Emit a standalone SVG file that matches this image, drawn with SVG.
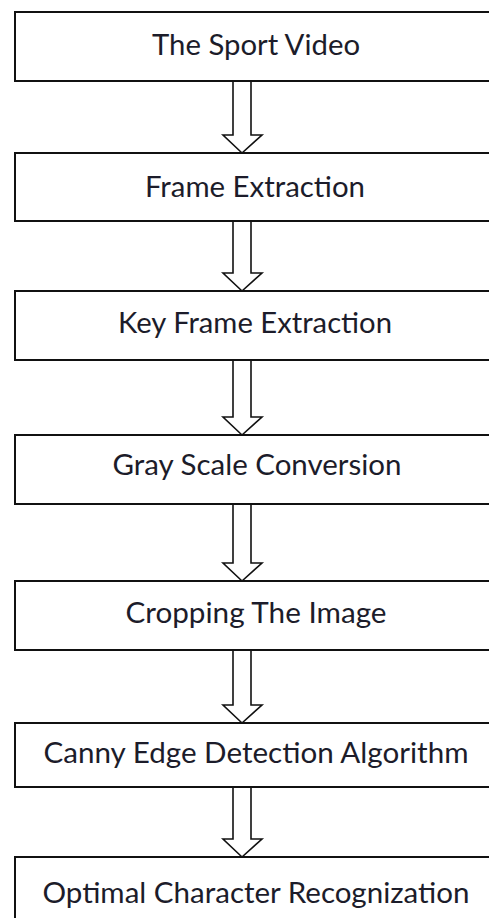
<svg xmlns="http://www.w3.org/2000/svg" width="489" height="918" viewBox="0 0 489 918">
<style>
.box{fill:#fff;stroke:#111;stroke-width:2}
.arr{fill:#fff;stroke:#111;stroke-width:1.6;stroke-linejoin:miter}
.lbl{font-family:Lato,"Open Sans","Liberation Sans",sans-serif;font-size:28px;fill:#1c1c2a;text-anchor:middle}
</style>
<rect width="489" height="918" fill="#fff"/>
<g id="n1"><rect class="box" x="15" y="12" width="490" height="69"/><text class="lbl" x="256" y="55" textLength="208" lengthAdjust="spacingAndGlyphs">The Sport Video</text></g>
<g id="n2"><rect class="box" x="15" y="153" width="490" height="68"/><text class="lbl" x="255" y="197" textLength="220" lengthAdjust="spacingAndGlyphs">Frame Extraction</text></g>
<g id="n3"><rect class="box" x="15" y="291" width="490" height="69"/><text class="lbl" x="255" y="333" textLength="274" lengthAdjust="spacingAndGlyphs">Key Frame Extraction</text></g>
<g id="n4"><rect class="box" x="15" y="435" width="490" height="69"/><text class="lbl" x="257" y="475" textLength="289" lengthAdjust="spacingAndGlyphs">Gray Scale Conversion</text></g>
<g id="n5"><rect class="box" x="15" y="581" width="490" height="69"/><text class="lbl" x="256" y="623" textLength="261" lengthAdjust="spacingAndGlyphs">Cropping The Image</text></g>
<g id="n6"><rect class="box" x="15" y="723" width="490" height="64"/><text class="lbl" x="256" y="763" textLength="425" lengthAdjust="spacingAndGlyphs">Canny Edge Detection Algorithm</text></g>
<g id="n7"><rect class="box" x="15" y="857" width="490" height="80"/><text class="lbl" x="256" y="903" textLength="427" lengthAdjust="spacingAndGlyphs">Optimal Character Recognization</text></g>
<g id="connectors">
<path class="arr" d="M233,82 V135 H223 L242,153 L262,135 H251 V82"/>
<path class="arr" d="M233,222 V273 H223 L242,291 L262,273 H251 V222"/>
<path class="arr" d="M233,361 V417 H223 L242,435 L262,417 H251 V361"/>
<path class="arr" d="M233,505 V563 H223 L242,581 L262,563 H251 V505"/>
<path class="arr" d="M233,651 V705 H223 L242,723 L262,705 H251 V651"/>
<path class="arr" d="M233,788 V839 H223 L242,857 L262,839 H251 V788"/>
</g>
</svg>
